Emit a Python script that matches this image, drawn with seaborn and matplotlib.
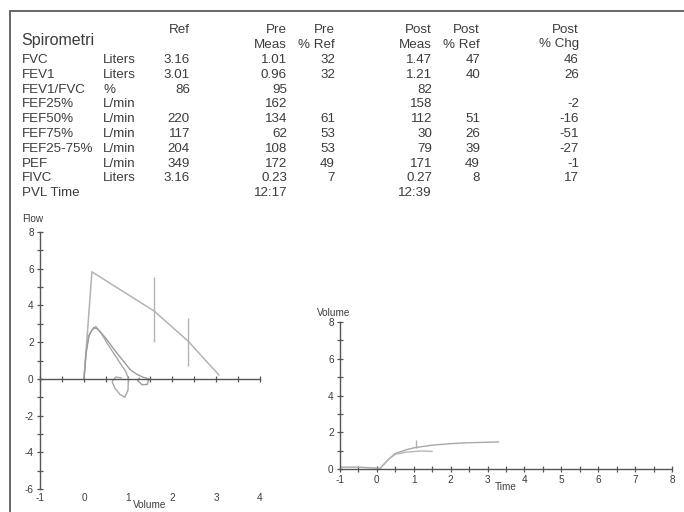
import matplotlib
matplotlib.use("Agg")
import matplotlib.pyplot as plt
from matplotlib.ticker import MultipleLocator, FuncFormatter
from matplotlib.lines import Line2D
import seaborn as sns
import pandas as pd

# ---------------- data ----------------
row_names = ["FVC", "FEV1", "FEV1/FVC", "FEF25%", "FEF50%", "FEF75%", "FEF25-75%", "PEF", "FIVC", "PVL Time"]
units = ["Liters", "Liters", "%", "L/min", "L/min", "L/min", "L/min", "L/min", "Liters", ""]
ref_vals = ["3.16", "3.01", "86", "", "220", "117", "204", "349", "3.16", ""]
pre_meas = ["1.01", "0.96", "95", "162", "134", "62", "108", "172", "0.23", "12:17"]
pre_pct = ["32", "32", "", "", "61", "53", "53", "49", "7", ""]
post_meas = ["1.47", "1.21", "82", "158", "112", "30", "79", "171", "0.27", "12:39"]
post_pct = ["47", "40", "", "", "51", "26", "39", "49", "8", ""]
post_chg = ["46", "26", "", "-2", "-16", "-51", "-27", "-1", "17", ""]

# predicted flow-volume envelope (volume L, flow L/s)
ref_vol = [0.0, 0.18, 1.59, 2.36, 3.07]
ref_flow = [0.0, 5.83, 3.70, 2.07, 0.20]
# ranges at FEF50 / FEF75
bar_vol = [1.59, 2.36]
bar_lo = [2.0, 0.7]
bar_hi = [5.56, 3.3]

# measured loops
pre_vol = [0.0, 0.04, 0.10, 0.18, 0.27, 0.40, 0.55, 0.70, 0.85, 0.95, 1.01, 1.00, 0.93, 0.82, 0.70, 0.64, 0.72, 0.85]
pre_flow = [0.0, 1.2, 2.3, 2.65, 2.85, 2.45, 1.85, 1.3, 0.75, 0.4, 0.0, -0.6, -1.0, -0.85, -0.5, -0.15, 0.1, 0.05]
post_vol = [0.0, 0.05, 0.12, 0.22, 0.32, 0.50, 0.70, 0.90, 1.05, 1.20, 1.35, 1.47, 1.44, 1.32, 1.22, 1.26]
post_flow = [0.0, 1.5, 2.4, 2.8, 2.7, 2.2, 1.55, 0.95, 0.5, 0.25, 0.08, 0.0, -0.3, -0.32, -0.1, 0.05]

# volume-time
post_t = [-1.0, -0.5, 0.0, 0.1, 0.3, 0.5, 0.8, 1.0, 1.5, 2.0, 2.5, 3.3]
post_v = [0.1, 0.1, 0.05, 0.05, 0.5, 0.85, 1.05, 1.15, 1.3, 1.38, 1.43, 1.47]
pre_t = [0.1, 0.3, 0.5, 0.8, 1.2, 1.5]
pre_v = [0.05, 0.5, 0.8, 0.92, 0.98, 0.96]
fev1_t = [1.06]
fev1_lo = [1.15]
fev1_hi = [1.6]

# ---------------- style ----------------
sns.set_theme(style="white")
plt.rcParams["font.family"] = ["Liberation Sans", "DejaVu Sans"]
plt.rcParams["axes.unicode_minus"] = False
TXT = "#3c3c3c"
AX = "#555555"
CURVE = "#a8a8a8"

fig = plt.figure(figsize=(6.84, 5.12), dpi=100)
fig.patch.set_facecolor("white")
fig.patch.set_linewidth(0)

# page border (top and left)
fig.add_artist(Line2D([10 / 684, 1], [1 - 11 / 512] * 2, color="#666666", lw=1.4))
fig.add_artist(Line2D([10 / 684] * 2, [0, 1 - 11 / 512], color="#666666", lw=1.4))

# ---------------- table ----------------
def fx(px):
    return px / 684

def fy(py):
    return 1 - py / 512

fs = 9.6
fig.text(fx(21), fy(40), "Spirometri", fontsize=11.5, color=TXT, va="center", ha="left")
hdr = [(190, ["Ref", ""]), (287, ["Pre", "Meas"]), (335, ["Pre", "% Ref"]),
       (432, ["Post", "Meas"]), (480, ["Post", "% Ref"]), (579, ["Post", "% Chg"])]
for xr, (l1, l2) in hdr:
    fig.text(fx(xr), fy(30), l1, fontsize=fs, color=TXT, ha="right", va="center")
    if l2:
        fig.text(fx(xr), fy(44.5), l2, fontsize=fs, color=TXT, ha="right", va="center")

cols = [(190, ref_vals), (287, pre_meas), (335, pre_pct), (432, post_meas), (480, post_pct), (579, post_chg)]
for i, name in enumerate(row_names):
    y = fy(60 + 14.8 * i)
    fig.text(fx(22), y, name, fontsize=fs, color=TXT, ha="left", va="center")
    fig.text(fx(103), y, units[i], fontsize=fs, color=TXT, ha="left", va="center")
    for xr, vals in cols:
        if vals[i]:
            fig.text(fx(xr), y, vals[i], fontsize=fs, color=TXT, ha="right", va="center")

def int_only(step):
    def f(v, pos):
        if abs(v / step - round(v / step)) < 1e-6:
            return f"{int(round(v))}"
        return ""
    return FuncFormatter(f)

LBL = 7.2

def style_axes(ax):
    ax.set_facecolor("none")
    for s in ["top", "right"]:
        ax.spines[s].set_visible(False)
    for s in ["left", "bottom"]:
        ax.spines[s].set_color(AX)
        ax.spines[s].set_linewidth(1.0)
    ax.tick_params(bottom=True, left=True, direction="inout", length=5, width=0.9, color=AX,
                   labelsize=LBL, labelcolor=TXT, pad=2)

# ---------------- flow-volume ----------------
ax1 = fig.add_axes([fx(40), fy(489), fx(220), (489 - 232) / 512])
style_axes(ax1)
ref_df = pd.DataFrame({"vol": ref_vol, "flow": ref_flow})
pre_df = pd.DataFrame({"vol": pre_vol, "flow": pre_flow})
post_df = pd.DataFrame({"vol": post_vol, "flow": post_flow})
sns.lineplot(data=ref_df, x="vol", y="flow", sort=False, estimator=None, color="#b3b3b3", lw=1.1, ax=ax1)
sns.lineplot(data=pre_df, x="vol", y="flow", sort=False, estimator=None, color=CURVE, lw=1.0, ax=ax1)
sns.lineplot(data=post_df, x="vol", y="flow", sort=False, estimator=None, color="#9c9c9c", lw=1.0, ax=ax1)
ax1.vlines(bar_vol, bar_lo, bar_hi, color="#b3b3b3", lw=1.0)
ax1.set_xlim(-1, 4)
ax1.set_ylim(-6, 8)
ax1.spines["bottom"].set_position(("data", 0))
ax1.xaxis.set_major_locator(MultipleLocator(0.5))
ax1.tick_params(axis="x", labelbottom=False)
ax1.yaxis.set_major_locator(MultipleLocator(1))
ax1.yaxis.set_major_formatter(int_only(2))
ax1.set_xlabel("")
ax1.set_ylabel("Flow", rotation=0, ha="left", va="bottom", fontsize=LBL, color=TXT)
ax1.yaxis.set_label_coords(-0.08, 1.03)
sec = ax1.secondary_xaxis(0)
sec.set_xticks(range(-1, 5))
sec.tick_params(bottom=True, length=0, labelsize=LBL, labelcolor=TXT, pad=3)
sec.spines["bottom"].set_visible(False)
sec.set_xlabel("Volume", fontsize=LBL, color=TXT, labelpad=-2)

# ---------------- volume-time ----------------
ax2 = fig.add_axes([fx(340), fy(469), fx(332), (469 - 322) / 512])
style_axes(ax2)
vt_post = pd.DataFrame({"t": post_t, "v": post_v})
vt_pre = pd.DataFrame({"t": pre_t, "v": pre_v})
sns.lineplot(data=vt_post, x="t", y="v", sort=False, estimator=None, color=CURVE, lw=1.0, ax=ax2)
sns.lineplot(data=vt_pre, x="t", y="v", sort=False, estimator=None, color="#b5b5b5", lw=1.0, ax=ax2)
ax2.vlines(fev1_t, fev1_lo, fev1_hi, color="#b0b0b0", lw=1.0)
ax2.set_xlim(-1, 8)
ax2.set_ylim(0, 8)
ax2.xaxis.set_major_locator(MultipleLocator(0.5))
ax2.xaxis.set_major_formatter(int_only(1))
ax2.yaxis.set_major_locator(MultipleLocator(1))
ax2.yaxis.set_major_formatter(int_only(2))
ax2.set_xlabel("Time", fontsize=LBL, color=TXT, labelpad=-2)
ax2.set_ylabel("Volume", rotation=0, ha="left", va="bottom", fontsize=LBL, color=TXT)
ax2.yaxis.set_label_coords(-0.07, 1.03)
for sp in ["left", "bottom"]:
    ax2.spines[sp].set_clip_on(False)

fig.savefig("out.png", dpi=100)
